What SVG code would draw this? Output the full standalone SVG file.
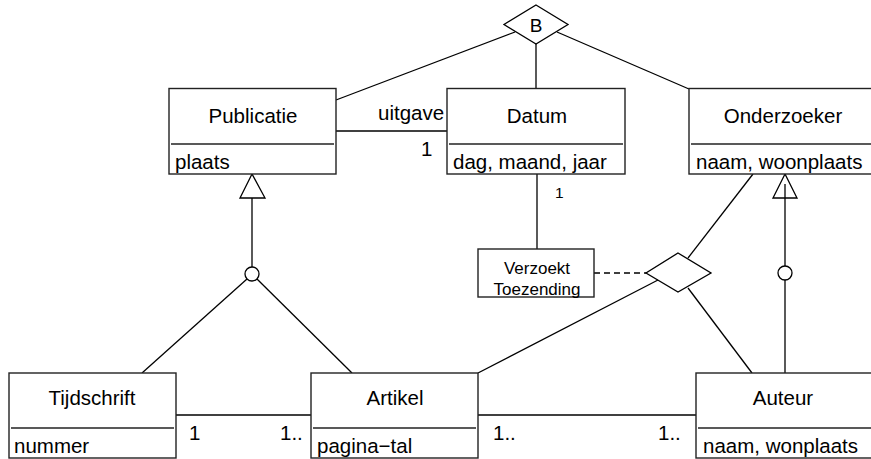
<svg xmlns="http://www.w3.org/2000/svg" width="871" height="459" viewBox="0 0 871 459">
<style>
text{font-family:"Liberation Sans",Arial,sans-serif;fill:#000}
.lbl{font-size:20.5px}
.mid{text-anchor:middle}
.box{fill:#fff;stroke:#222;stroke-width:1.4}
.div{stroke:#222;stroke-width:1.4}
.ln{stroke:#000;stroke-width:1.3;fill:none}
.sm{font-size:17px}
.xs{font-size:15.5px}
</style>
<rect width="871" height="459" fill="#fff"/>
<g id="connectors">
<line class="ln" x1="336" y1="131" x2="447" y2="131"/>
<line class="ln" x1="515" y1="32" x2="336" y2="100"/>
<line class="ln" x1="536" y1="44" x2="536" y2="88"/>
<line class="ln" x1="557" y1="32" x2="689" y2="89"/>
<line class="ln" x1="537" y1="174" x2="537" y2="249"/>
<line class="ln" x1="594" y1="273" x2="646" y2="273" stroke-dasharray="6,4"/>
<line class="ln" x1="688" y1="258" x2="753" y2="174"/>
<line class="ln" x1="658" y1="280" x2="478" y2="373"/>
<line class="ln" x1="688" y1="288" x2="752" y2="373"/>
<line class="ln" x1="176" y1="415" x2="311" y2="415"/>
<line class="ln" x1="478" y1="415" x2="696" y2="415"/>
<polygon class="ln" points="252,174 240,198 265,198" fill="#fff"/>
<line class="ln" x1="252" y1="198" x2="252" y2="267"/>
<circle class="ln" cx="252" cy="274" r="7" fill="#fff"/>
<line class="ln" x1="247" y1="279" x2="142" y2="373"/>
<line class="ln" x1="257" y1="279" x2="352" y2="373"/>
<polygon class="ln" points="785,174 773,198 797,198" fill="#fff"/>
<line class="ln" x1="785" y1="184" x2="785" y2="266"/>
<circle class="ln" cx="785" cy="273" r="7" fill="#fff"/>
<line class="ln" x1="785" y1="280" x2="785" y2="373"/>
<text class="lbl" x="378" y="120">uitgave</text>
<text class="lbl" x="421" y="156">1</text>
<text class="xs" x="555" y="198">1</text>
<text class="lbl" x="189" y="440">1</text>
<text class="lbl" x="280" y="440">1..</text>
<text class="lbl" x="493" y="440">1..</text>
<text class="lbl" x="658" y="440">1..</text>
</g>
<g id="B">
<polygon class="ln" points="536,5 568,24.5 536,44 504,24.5" fill="#fff"/>
<text class="mid" style="font-size:19px" x="536" y="32">B</text>
</g>
<g id="assoc">
<polygon class="ln" points="678,253 711,273 678,292 646,273" fill="#fff"/>
</g>
<g id="Publicatie">
<rect class="box" x="169" y="88.5" width="167" height="85.5"/>
<line class="div" x1="171" y1="144" x2="334" y2="144"/>
<text class="lbl mid" x="253" y="123">Publicatie</text>
<text class="lbl" x="175" y="169">plaats</text>
</g>
<g id="Datum">
<rect class="box" x="447" y="88.5" width="178" height="85.5"/>
<line class="div" x1="449" y1="144" x2="623" y2="144"/>
<text class="lbl mid" x="537" y="123">Datum</text>
<text class="lbl" x="453" y="169">dag, maand, jaar</text>
</g>
<g id="Onderzoeker">
<rect class="box" x="689" y="88.5" width="190" height="85.5"/>
<line class="div" x1="691" y1="144" x2="875" y2="144"/>
<text class="lbl mid" x="783" y="123">Onderzoeker</text>
<text class="lbl" x="696" y="169">naam, woonplaats</text>
</g>
<g id="VerzoektToezending">
<rect class="box" x="478" y="249" width="116" height="48"/>
<text class="sm mid" x="537" y="274">Verzoekt</text>
<text class="sm mid" x="537" y="295">Toezending</text>
</g>
<g id="Tijdschrift">
<rect class="box" x="9" y="373" width="167" height="85"/>
<line class="div" x1="11" y1="428" x2="174" y2="428"/>
<text class="lbl mid" x="92" y="405">Tijdschrift</text>
<text class="lbl" x="14" y="453">nummer</text>
</g>
<g id="Artikel">
<rect class="box" x="311" y="373" width="167" height="85"/>
<line class="div" x1="313" y1="428" x2="476" y2="428"/>
<text class="lbl mid" x="395" y="405">Artikel</text>
<text class="lbl" x="317" y="453">pagina−tal</text>
</g>
<g id="Auteur">
<rect class="box" x="696" y="373" width="183" height="85"/>
<line class="div" x1="698" y1="428" x2="875" y2="428"/>
<text class="lbl mid" x="783" y="405">Auteur</text>
<text class="lbl" x="703" y="453">naam, wonplaats</text>
</g>
</svg>
